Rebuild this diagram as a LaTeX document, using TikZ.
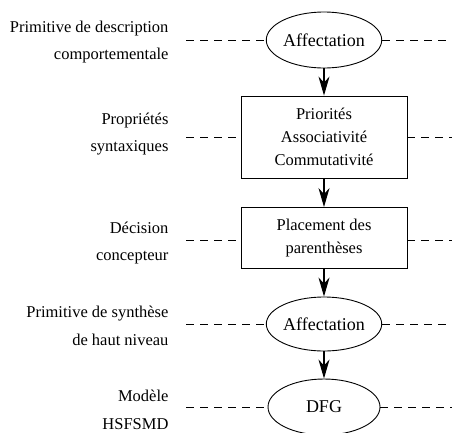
\documentclass[tikz,border=0pt]{standalone}
\usepackage{fontspec}
\setmainfont{Liberation Serif}
\usetikzlibrary{shapes.geometric,arrows.meta,positioning}

\begin{document}
\begin{tikzpicture}[x=1pt, y=-1pt,
          ellstep/.style={draw, ellipse, line width=0.9pt, minimum width=112pt, minimum height=56pt, inner sep=0pt, font=\fontsize{18}{22}\selectfont},
          boxstep/.style={draw, rectangle, line width=0.9pt, minimum width=166pt, inner sep=0pt, align=center, font=\fontsize{16.5}{23}\selectfont},
          lvl/.style={anchor=east, align=right, font=\fontsize{16.5}{27.5}\selectfont},
          flow/.style={-{Stealth[length=19pt,width=11pt,inset=6pt]}, line width=1.2pt},
          guide/.style={dashed, dash pattern=on 8pt off 6pt, line width=0.6pt},
        ]
        \useasboundingbox (0,0) rectangle (452,432);
        % steps
        \node[ellstep] (aff1) at (324,40) {Affectation};
        \node[boxstep, minimum height=82pt] (prop) at (324,137) {Priorités\\Associativité\\Commutativité};
        \node[boxstep, minimum height=61pt] (paren) at (324,238) {Placement des\\parenthèses};
        \node[ellstep, minimum height=54pt] (aff2) at (324,324) {Affectation};
        \node[ellstep] (dfg) at (324,407) {DFG};
        \draw[flow] (aff1) -- (prop);
        \draw[flow] (prop) -- (paren);
        \draw[flow] (paren) -- (aff2);
        \draw[flow] (aff2) -- (dfg);
        % levels
        \node[lvl] (l1) at (172,42) {Primitive de description\\comportementale};
        \node[lvl] (l2) at (172,134) {Propriétés\\syntaxiques};
        \node[lvl] (l3) at (172,243) {Décision\\concepteur};
        \node[lvl] (l4) at (172,326) {Primitive de synthèse\\de haut niveau};
        \node[lvl] (l5) at (172,410) {Modèle\\HSFSMD};
        \foreach \n/\y in {aff1/40,prop/137,paren/240,aff2/324,dfg/407}{
          \coordinate (\n-l) at (186,\y);
          \coordinate (\n-r) at (452,\y);
          \draw[guide] (\n-l) -- (\n.west |- \n-l);
          \draw[guide] (\n.east |- \n-r) -- (\n-r);
        }
      \end{tikzpicture}
\end{document}
